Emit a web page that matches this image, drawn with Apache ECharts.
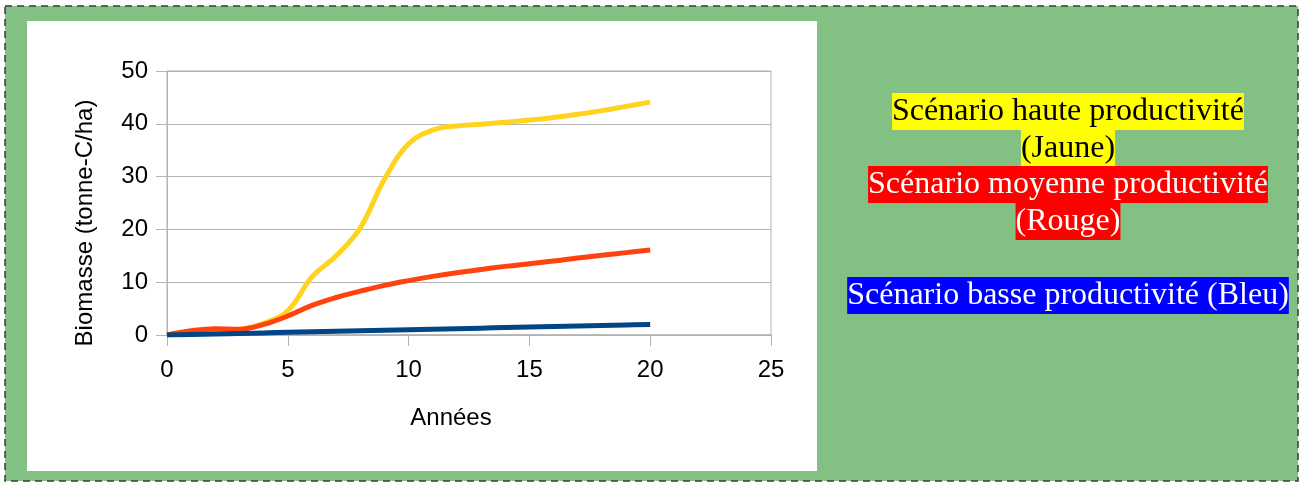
<!DOCTYPE html>
<html>
<head>
<meta charset="utf-8">
<script src="https://cdn.jsdelivr.net/npm/echarts@6/dist/echarts.min.js"></script>
<style>
  html, body { margin: 0; padding: 0; background: #ffffff; }
  #chart { width: 1301px; height: 483px; }
</style>
</head>
<body>
<div id="chart"></div>
<script>
// Years since planting
const years = [0, 1, 2, 3, 4, 5, 6, 7, 8, 9, 10, 11, 12, 13, 14, 15, 16, 17, 18, 19, 20];

// Biomass (tonne-C/ha) for each productivity scenario
const hauteProductivite   = [0, 0.2, 0.5, 1.0, 2.2, 4.6, 11.0, 15.0, 20.3, 29.5, 36.2, 38.8, 39.6, 39.9, 40.3, 40.7, 41.2, 41.8, 42.5, 43.3, 44.1];
const moyenneProductivite = [0, 0.8, 1.2, 1.1, 2.0, 3.6, 5.6, 7.1, 8.3, 9.4, 10.3, 11.1, 11.8, 12.4, 13.0, 13.5, 14.0, 14.6, 15.1, 15.6, 16.1];
const basseProductivite   = [0, 0.1, 0.2, 0.3, 0.4, 0.5, 0.6, 0.7, 0.8, 0.9, 1.0, 1.1, 1.2, 1.3, 1.4, 1.5, 1.6, 1.7, 1.8, 1.9, 2.0];

// Axis settings
const xTicks = { min: 0, max: 25, interval: 5 };
const yTicks = { min: 0, max: 50, interval: 10 };

// Scenario captions shown on the right
const legendLines = [
  { text: 'Scénario haute productivité', bg: '#ffff00', fg: '#000000', top: 93 },
  { text: '(Jaune)', bg: '#ffff00', fg: '#000000', top: 130 },
  { text: 'Scénario moyenne productivité', bg: '#ff0000', fg: '#ffffff', top: 166 },
  { text: '(Rouge)', bg: '#ff0000', fg: '#ffffff', top: 203 },
  { text: 'Scénario basse productivité (Bleu)', bg: '#0000ff', fg: '#ffffff', top: 277 }
];

const pairs = arr => years.map((y, i) => [y, arr[i]]);

const sansFont = '"Liberation Sans", Arial, sans-serif';
const serifFont = '"Liberation Serif", "Times New Roman", serif';
const gridGray = '#b3b3b3';

const chart = echarts.init(document.getElementById('chart'), null, { renderer: 'canvas' });

const graphics = [
  // green frame with dashed outline
  {
    type: 'rect', z: -100, silent: true,
    shape: { x: 5, y: 6, width: 1293, height: 475 },
    style: { fill: '#82c084', stroke: '#3a3a3a', lineWidth: 1.5, lineDash: [7, 5] }
  },
  // white chart panel
  {
    type: 'rect', z: -90, silent: true,
    shape: { x: 27, y: 21, width: 790, height: 450 },
    style: { fill: '#ffffff' }
  },
  // axis titles
  {
    type: 'text', z: 50, x: 451, y: 418,
    style: { text: 'Années', font: '24px ' + sansFont, fill: '#000', textAlign: 'center', textVerticalAlign: 'middle' }
  },
  {
    type: 'text', z: 50, x: 85, y: 223, rotation: Math.PI / 2,
    style: { text: 'Biomasse (tonne-C/ha)', font: '24px ' + sansFont, fill: '#000', textAlign: 'center', textVerticalAlign: 'middle' }
  }
];

legendLines.forEach(l => {
  graphics.push({
    type: 'text', z: 50, x: 1068, y: l.top,
    style: {
      text: l.text,
      font: '32px ' + serifFont,
      fill: l.fg,
      backgroundColor: l.bg,
      lineHeight: 37,
      textAlign: 'center',
      textVerticalAlign: 'top'
    }
  });
});

const lineSeries = (name, data, color, z) => ({
  name, type: 'line', data: pairs(data),
  smooth: 0.4, showSymbol: false, z,
  lineStyle: { color, width: 5, cap: 'butt' },
  itemStyle: { color }
});

chart.setOption({
  animation: false,
  backgroundColor: 'transparent',
  graphic: graphics,
  grid: {
    left: 167, top: 71, width: 604, height: 264,
    show: true, borderColor: gridGray, borderWidth: 1, backgroundColor: 'transparent'
  },
  xAxis: {
    type: 'value', min: xTicks.min, max: xTicks.max, interval: xTicks.interval,
    axisLine: { show: true, lineStyle: { color: gridGray, width: 1.5 } },
    axisTick: { show: true, length: 11, lineStyle: { color: gridGray } },
    splitLine: { show: false },
    axisLabel: { color: '#000', fontSize: 24, fontFamily: sansFont, margin: 23 }
  },
  yAxis: {
    type: 'value', min: yTicks.min, max: yTicks.max, interval: yTicks.interval,
    axisLine: { show: true, lineStyle: { color: gridGray, width: 1 } },
    axisTick: { show: true, length: 11, lineStyle: { color: gridGray } },
    splitLine: { show: true, lineStyle: { color: gridGray, width: 1 } },
    axisLabel: { color: '#000', fontSize: 24, fontFamily: sansFont, margin: 19 }
  },
  series: [
    lineSeries('Haute productivité', hauteProductivite, '#ffd320', 3),
    lineSeries('Moyenne productivité', moyenneProductivite, '#ff420e', 4),
    lineSeries('Basse productivité', basseProductivite, '#004586', 5)
  ]
});
</script>
</body>
</html>
